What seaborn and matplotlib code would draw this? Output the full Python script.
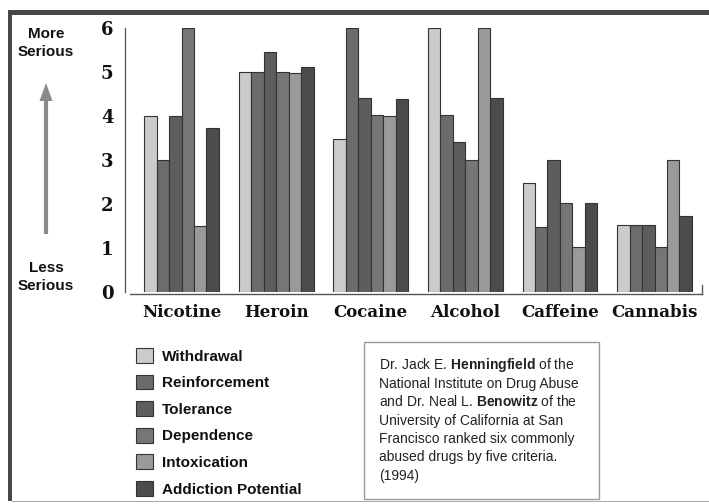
import matplotlib
matplotlib.use("Agg")
import matplotlib.pyplot as plt
import seaborn as sns
import pandas as pd
from matplotlib.patches import Rectangle, FancyArrow

drugs = ["Nicotine", "Heroin", "Cocaine", "Alcohol", "Caffeine", "Cannabis"]
criteria = ["Withdrawal", "Reinforcement", "Tolerance", "Dependence",
            "Intoxication", "Addiction Potential"]
withdrawal = [4.0, 5.0, 3.47, 6.0, 2.47, 1.52]
reinforcement = [3.0, 5.0, 6.0, 4.02, 1.48, 1.52]
tolerance = [4.0, 5.46, 4.42, 3.42, 3.0, 1.52]
dependence = [6.0, 5.0, 4.02, 3.01, 2.03, 1.02]
intoxication = [1.5, 4.98, 3.99, 6.0, 1.02, 3.0]
addiction = [3.73, 5.12, 4.38, 4.42, 2.03, 1.73]
yticks = [0, 1, 2, 3, 4, 5, 6]
colors = ["#cbcbcb", "#6c6c6c", "#5d5d5d", "#767676", "#9a9a9a", "#4c4c4c"]

series = [withdrawal, reinforcement, tolerance, dependence, intoxication, addiction]
rows = []
for crit, vals in zip(criteria, series):
    for d, v in zip(drugs, vals):
        rows.append({"drug": d, "criterion": crit, "value": v})
df = pd.DataFrame(rows)

sns.set_style("white")
plt.rcParams["font.family"] = ["Liberation Sans", "DejaVu Sans"]
plt.rcParams["mathtext.fontset"] = "custom"
plt.rcParams["mathtext.rm"] = "Liberation Sans"
plt.rcParams["mathtext.bf"] = "Liberation Sans:bold"

W, H = 709, 504
fig = plt.figure(figsize=(W / 100, H / 100), dpi=100)
ax = fig.add_axes([124.5 / W, 1 - 292 / H, (702 - 124.5) / W, (292 - 28) / H])

sns.barplot(data=df, x="drug", y="value", hue="criterion", order=drugs,
            hue_order=criteria, palette=colors, width=0.79, gap=0,
            edgecolor="#333333", linewidth=0.8, ax=ax, saturation=1)

ax.set_xlim(-0.603, 5.502)
ax.set_ylim(0, 6)
ax.set_xlabel("")
ax.set_ylabel("")
ax.set_yticks(yticks)
ax.set_yticklabels([str(t) for t in yticks])
ax.set_xticks(range(len(drugs)))
ax.set_xticklabels(drugs)
ax.tick_params(axis="y", direction="in", length=6, width=0.8, color="#555555",
               pad=8, labelcolor="#111111")
ax.tick_params(axis="x", which="major", length=0, pad=7, labelcolor="#111111")
ax.set_xticks([0.5, 1.5, 2.5, 3.5, 4.5], minor=True)
ax.tick_params(axis="x", which="minor", direction="in", length=4, width=1,
               color="#555555")

ax.spines["top"].set_visible(False)
ax.spines["left"].set_color("#555555")
ax.spines["left"].set_linewidth(0.9)
ax.spines["bottom"].set_position(("data", -0.05))
ax.spines["bottom"].set_bounds(-0.55, 5.502)
ax.spines["bottom"].set_color("#555555")
ax.spines["bottom"].set_linewidth(1.0)
ax.spines["right"].set_bounds(-0.05, 0.16)
ax.spines["right"].set_color("#555555")
ax.spines["right"].set_linewidth(1.0)

sns.move_legend(ax, loc="upper left", bbox_to_anchor=(136 / W, 1 - 348 / H),
                bbox_transform=fig.transFigure, frameon=False, title=None,
                prop={"weight": "bold", "size": 11}, handlelength=1.12,
                handleheight=1.12, labelspacing=0.72, handletextpad=0.55,
                borderpad=0, borderaxespad=0)
for t in ax.get_legend().get_texts():
    t.set_color("#111111")

# side labels and arrow
fig.text(46 / W, 1 - 43 / H, "More\nSerious", ha="center", va="center",
         fontweight="bold", fontsize=11, linespacing=1.3, color="#111111")
fig.text(46 / W, 1 - 277 / H, "Less\nSerious", ha="center", va="center",
         fontweight="bold", fontsize=11, linespacing=1.3, color="#111111")
fig.add_artist(FancyArrow(
    46 / W, 1 - 234 / H, 0, (234 - 83) / H, width=3 / H, head_width=13 / W,
    head_length=18 / H, length_includes_head=True, color="#8a8a8a",
    transform=fig.transFigure, linewidth=0))

# text box
fig.add_artist(Rectangle((364 / W, 1 - 499 / H), (599 - 364) / W, (499 - 342) / H,
                         transform=fig.transFigure, fill=False,
                         edgecolor="#9a9a9a", linewidth=1.0))
lines = ["Dr. Jack E. $\\mathbf{Henningfield}$ of the",
         "National Institute on Drug Abuse",
         "and Dr. Neal L. $\\mathbf{Benowitz}$ of the",
         "University of California at San",
         "Francisco ranked six commonly",
         "abused drugs by five criteria.",
         "(1994)"]
ys = [365, 384, 402, 421, 439, 457, 476]
for ln, yy in zip(lines, ys):
    fig.text(379 / W, 1 - yy / H, ln, ha="left", va="center", fontsize=10,
             color="#222222")

# frame
fig.add_artist(Rectangle((8 / W, 1 - 15 / H), 1 - 8 / W, 5 / H,
                         transform=fig.transFigure, color="#474747", linewidth=0))
fig.add_artist(Rectangle((8 / W, 1 - 501 / H), 4 / W, (501 - 10) / H,
                         transform=fig.transFigure, color="#474747", linewidth=0))
fig.add_artist(Rectangle((12 / W, 1 - 502 / H), 1 - 12 / W, 1.5 / H,
                         transform=fig.transFigure, color="#aaaaaa", linewidth=0))

fig.canvas.draw()
for lbl in ax.get_xticklabels():
    lbl.set_fontfamily("DejaVu Serif")
    lbl.set_fontweight("bold")
    lbl.set_fontsize(12)
for lbl in ax.get_yticklabels():
    lbl.set_fontfamily("DejaVu Serif")
    lbl.set_fontweight("bold")
    lbl.set_fontsize(13)

fig.savefig("out.png", dpi=100, facecolor="white")
